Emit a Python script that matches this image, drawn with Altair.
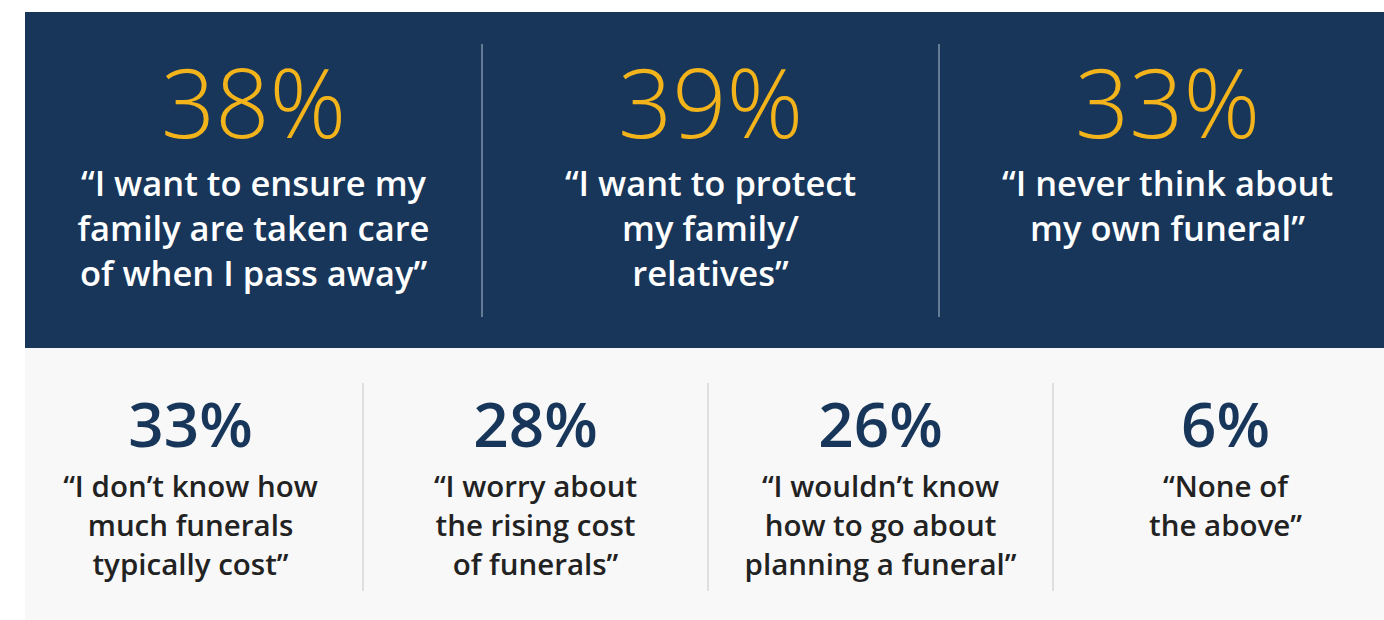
import altair as alt
import pandas as pd

W, H = 1384, 620

# ---- data ----
top_values = ["38%", "39%", "33%"]
top_quotes = [
    "\u201cI want to ensure my\nfamily are taken care\nof when I pass away\u201d",
    "\u201cI want to protect\nmy family/\nrelatives\u201d",
    "\u201cI never think about\nmy own funeral\u201d",
]
bottom_values = ["33%", "28%", "26%", "6%"]
bottom_quotes = [
    "\u201cI don\u2019t know how\nmuch funerals\ntypically cost\u201d",
    "\u201cI worry about\nthe rising cost\nof funerals\u201d",
    "\u201cI wouldn\u2019t know\nhow to go about\nplanning a funeral\u201d",
    "\u201cNone of\nthe above\u201d",
]

# ---- layout ----
NAVY = "#17365a"
GOLD = "#f2b31b"
LIGHT = "#f8f8f8"
FONT = "Open Sans"

top_x0, top_w = 25, 457
bot_x0, bot_w = 18, 345

top_df = pd.DataFrame({
    "value": top_values,
    "quote": top_quotes,
    "cx": [top_x0 + top_w * (i + 0.5) for i in range(3)],
})
bot_df = pd.DataFrame({
    "value": bottom_values,
    "quote": bottom_quotes,
    "cx": [bot_x0 + bot_w * (i + 0.5) for i in range(4)],
})
top_div = pd.DataFrame({"x": [top_x0 + top_w * i for i in range(1, 3)], "y": 44, "y2": 317})
bot_div = pd.DataFrame({"x": [bot_x0 + bot_w * i for i in range(1, 4)], "y": 383, "y2": 591})
panels = pd.DataFrame({
    "x": [25, 25], "x2": [W, W], "y": [12, 348], "y2": [348, H],
    "fill": [NAVY, LIGHT],
})

xs = alt.Scale(domain=[0, W], range=[0, W])
ys = alt.Scale(domain=[0, H], range=[0, H])
X = lambda f: alt.X(f, type="quantitative", scale=xs, axis=None)
Y = lambda f: alt.Y(f, type="quantitative", scale=ys, axis=None)

bg = alt.Chart(panels).mark_rect().encode(
    x=X("x"), x2="x2", y=Y("y"), y2="y2",
    color=alt.Color("fill:N", scale=None),
)

tdiv = alt.Chart(top_div).mark_rule(color="#7f93ab", strokeWidth=1.5).encode(
    x=X("x"), y=Y("y"), y2="y2")
bdiv = alt.Chart(bot_div).mark_rule(color="#cfcfcf", strokeWidth=1.2).encode(
    x=X("x"), y=Y("y"), y2="y2")

top_num = alt.Chart(top_df).transform_calculate(y="138").mark_text(
    font=FONT, fontSize=95, fontWeight=300, color=GOLD, align="center", baseline="alphabetic"
).encode(x=X("cx"), y=Y("y"), text="value:N")

top_q = alt.Chart(top_df).transform_calculate(y="196").mark_text(
    font=FONT, fontSize=34.5, fontWeight=600, color="white", align="center",
    baseline="alphabetic", lineBreak="\n", lineHeight=45,
).encode(x=X("cx"), y=Y("y"), text="quote:N")

bot_num = alt.Chart(bot_df).transform_calculate(y="447").mark_text(
    font=FONT, fontSize=62, fontWeight=600, color=NAVY, align="center", baseline="alphabetic"
).encode(x=X("cx"), y=Y("y"), text="value:N")

bot_q = alt.Chart(bot_df).transform_calculate(y="497").mark_text(
    font=FONT, fontSize=29.5, fontWeight=600, color="#222222", align="center",
    baseline="alphabetic", lineBreak="\n", lineHeight=39,
).encode(x=X("cx"), y=Y("y"), text="quote:N")

chart = alt.layer(bg, tdiv, bdiv, top_num, top_q, bot_num, bot_q).properties(
    width=W, height=H, padding=0, autosize=alt.AutoSizeParams(type="none"),
    background="white",
).configure_view(stroke=None)

chart.save("out.html", embed_options={"renderer": "svg", "actions": False})
